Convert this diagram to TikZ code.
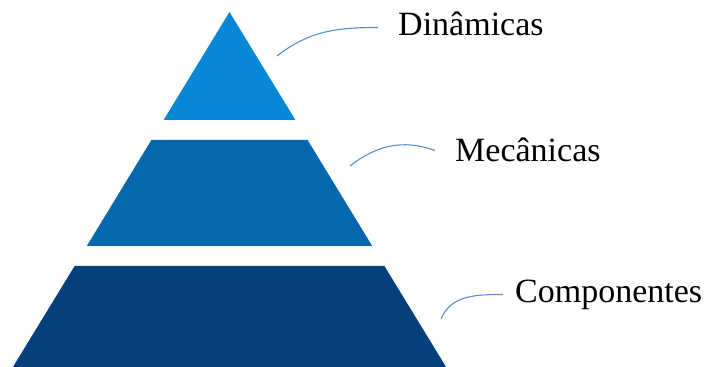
\documentclass[tikz,border=0pt]{standalone}
\usepackage{fontspec}
\setmainfont{Liberation Serif}
\definecolor{topo}{RGB}{8,135,214}
\definecolor{meio}{RGB}{5,103,174}
\definecolor{base}{RGB}{3,64,124}
\definecolor{fio}{RGB}{88,140,208}
\tikzset{
	rotulo/.style={inner sep=0pt, anchor=base west, text height=24pt, text depth=7pt, font=\fontsize{34}{40}\selectfont},
	ligacao/.style={draw=fio, line width=1.1pt}
}
\begin{document}
\begin{tikzpicture}[x=1pt,y=1pt]
		\useasboundingbox (0,0) rectangle (705,367);
		\fill[topo] (229.5,355) -- (295.4,247) -- (163.6,247) -- cycle;
		\fill[meio] (151.4,227) -- (307.6,227) -- (372.2,121) -- (86.8,121) -- cycle;
		\fill[base] (74.6,101) -- (384.4,101) -- (446.1,0) -- (12.9,0) -- cycle;
		\coordinate (c1) at (277,311);
		\coordinate (c2) at (350,201);
		\coordinate (c3) at (441,48);
		\node[rotulo] (din) at (398,331) {Dinâmicas};
		\node[rotulo] (mec) at (455,205) {Mecânicas};
		\node[rotulo] (com) at (515,64) {Componentes};
		\draw[ligacao] (c1) to[out=38,in=180] ([xshift=-20pt]din.west);
		\draw[ligacao] (c2) to[out=38,in=160] ([xshift=-20pt,yshift=3pt]mec.west);
		\draw[ligacao] (c3) to[out=68,in=180] ([xshift=-12pt]com.west);
	\end{tikzpicture}
\end{document}
